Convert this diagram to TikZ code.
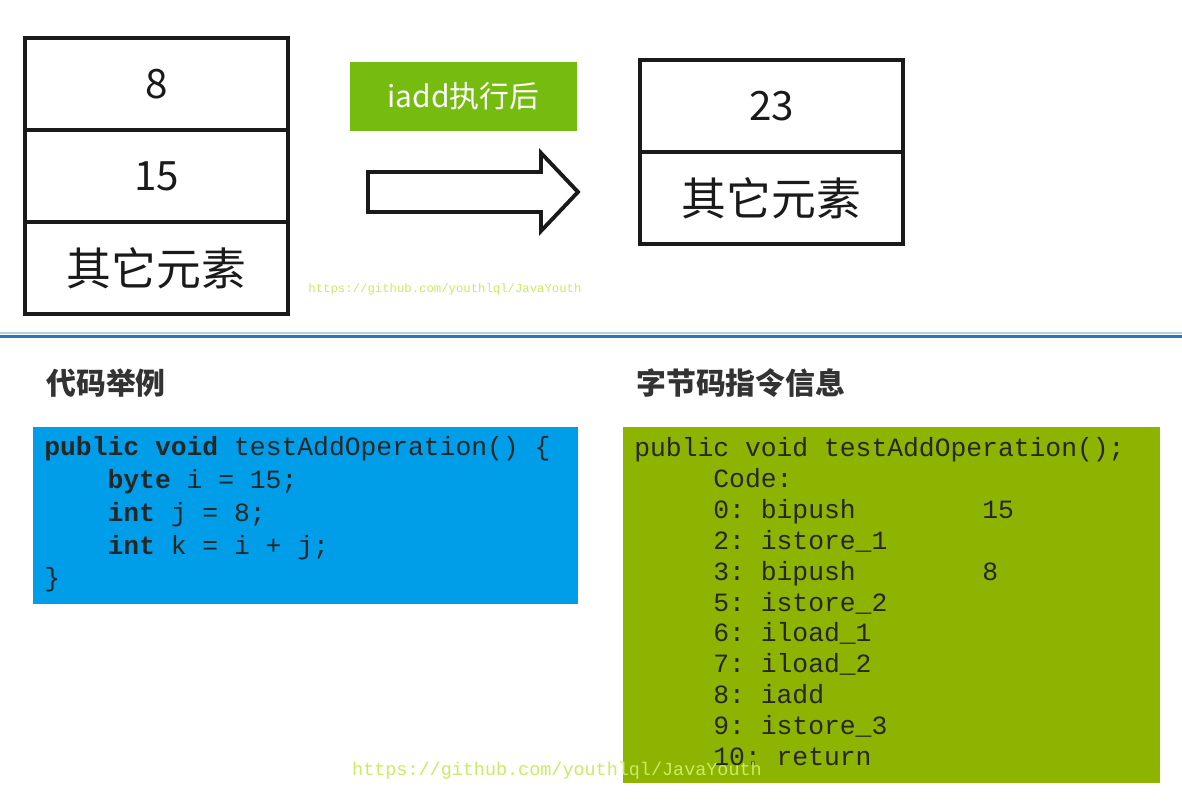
\documentclass[tikz,border=0pt]{standalone}
\usepackage{fontspec}
\setmonofont{Liberation Mono}
\newfontfamily\cjk{Noto Sans CJK SC}
\usetikzlibrary{positioning}

\definecolor{stackline}{RGB}{26,26,26}
\definecolor{labelgreen}{RGB}{118,188,16}
\definecolor{codeblue}{RGB}{0,158,232}
\definecolor{bytegreen}{RGB}{141,180,0}
\definecolor{ruleblue}{RGB}{46,117,182}
\definecolor{markgreen}{RGB}{200,236,100}

\tikzset{
  cell/.style={draw=stackline, line width=2.2pt, minimum width=5.26cm, minimum height=1.84cm,
    outer sep=0pt, inner sep=0pt, text=stackline},
  numtext/.style={font=\cjk\fontsize{23}{28}\selectfont},
  cjktext/.style={font=\cjk\fontsize{25.5}{30}\selectfont},
  heading/.style={anchor=west, inner sep=0pt, font=\cjk\bfseries\fontsize{17}{20}\selectfont, text=black!80},
  codetext/.style={anchor=north west, inner sep=0pt, align=left, text=black!85},
  watermark/.style={inner sep=0pt, text=markgreen}
}

\begin{document}
\begin{tikzpicture}[x=0.02cm, y=-0.02cm]
  \useasboundingbox [fill=white] (0,0) rectangle (1182,803);

  \node [cell, numtext] (l8) at (156.5,84) {8};
  \node [cell, numtext, below=0pt of l8] (l15) {15};
  \node [cell, cjktext, below=0pt of l15] (lrest) {其它元素};

  \node [fill=labelgreen, minimum width=4.54cm, minimum height=1.38cm, text=white,
    font=\cjk\fontsize{17}{20}\selectfont] (after) at (463.5,96.5) {iadd执行后};

  \draw [line width=2.2pt, draw=stackline, line join=miter]
    (368,172) -- (541,172) -- (541,153) -- (578,192) -- (541,231) -- (541,212) -- (368,212) -- cycle;

  \node [cell, numtext] (r23) at (771.5,106) {23};
  \node [cell, cjktext, below=0pt of r23] (rrest) {其它元素};

  \node [watermark, font=\ttfamily\fontsize{7}{8}\selectfont] (mark1) at (445,289)
    {https://github.com/youthlql/JavaYouth};

  \draw [ruleblue!35, line width=1pt] (0,333) -- (1182,333);
  \draw [ruleblue, line width=1.7pt] (0,336.5) -- (1182,336.5);

  \node [heading] (codehead) at (46,383) {代码举例};
  \node [heading] (bytehead) at (636,383) {字节码指令信息};

  \node [fill=codeblue, minimum width=10.9cm, minimum height=3.54cm, anchor=north west,
    inner sep=0pt] (codebox) at (33,427) {};
  \node [codetext, font=\ttfamily\fontsize{15}{18.7}\selectfont]
    (src) at ([shift={(11,9)}]codebox.north west)
    {\textbf{public void} testAddOperation() \{\\
     \hspace*{2.4em}\textbf{byte} i = 15;\\
     \hspace*{2.4em}\textbf{int} j = 8;\\
     \hspace*{2.4em}\textbf{int} k = i + j;\\
     \}};

  \node [fill=bytegreen, minimum width=10.74cm, minimum height=7.12cm, anchor=north west,
    inner sep=0pt] (bytebox) at (623,427) {};
  \node [codetext, font=\ttfamily\fontsize{15}{17.6}\selectfont]
    (bc) at ([shift={(11,10)}]bytebox.north west)
    {public void testAddOperation();\\
     \hspace*{3em}Code:\\
     \hspace*{3em}0: bipush\hspace*{4.8em}15\\
     \hspace*{3em}2: istore\_1\\
     \hspace*{3em}3: bipush\hspace*{4.8em}8\\
     \hspace*{3em}5: istore\_2\\
     \hspace*{3em}6: iload\_1\\
     \hspace*{3em}7: iload\_2\\
     \hspace*{3em}8: iadd\\
     \hspace*{3em}9: istore\_3\\
     \hspace*{3em}10: return};

  \node [watermark, font=\ttfamily\fontsize{10.5}{12}\selectfont] (mark2) at (557,771)
    {https://github.com/youthlql/JavaYouth};
\end{tikzpicture}
\end{document}
